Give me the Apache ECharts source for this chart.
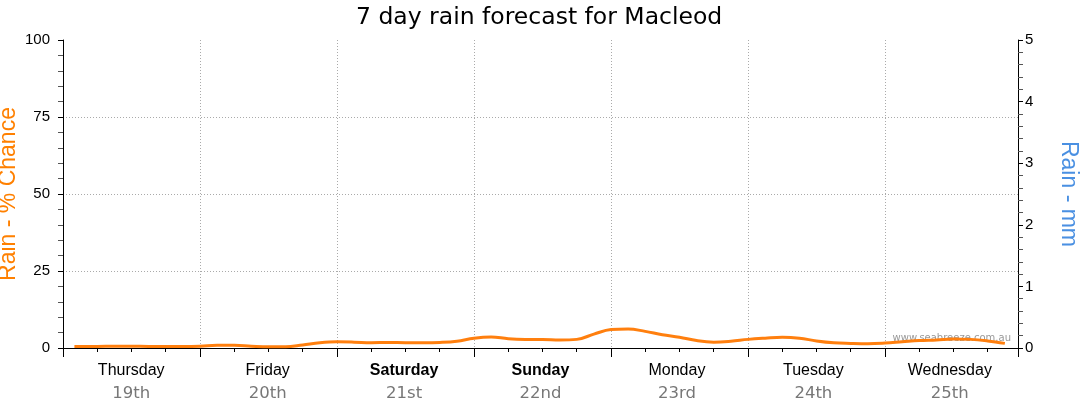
<!DOCTYPE html>
<html><head><meta charset="utf-8">
<script src="https://cdn.jsdelivr.net/npm/echarts@6/dist/echarts.min.js"></script>
<style>html,body{margin:0;padding:0;background:#fff}#c{width:1080px;height:414px}</style>
</head><body><div id="c"></div>
<script>
const titleText = '7 day rain forecast for Macleod';
const dayNames = ['Thursday','Friday','Saturday','Sunday','Monday','Tuesday','Wednesday'];
const dayDates = ['19th','20th','21st','22nd','23rd','24th','25th'];
const boldDays = ['Saturday','Sunday'];
// forecast hour from start of Thursday
const hours = [2,6,9,12,15,18,21,24,27,30,33,36,39,42,45,48,51,54,57,60,63,66,69,72,75,78,81,84,87,90,93,96,99,102,105,108,111,114,117,120,123,126,129,132,135,138,141,144,147,150,153,156,159,162,165];
const chance = [0.5,0.5,0.6,0.6,0.5,0.5,0.5,0.6,0.9,0.9,0.6,0.4,0.4,1.0,1.7,2.0,1.9,1.7,1.8,1.7,1.7,1.8,2.2,3.2,3.6,3.0,2.8,2.8,2.6,2.8,4.5,6.0,6.2,5.4,4.3,3.5,2.4,1.9,2.2,2.8,3.2,3.5,3.2,2.3,1.7,1.5,1.4,1.6,2.0,2.4,2.6,2.9,2.8,2.3,1.5];
const chanceTicks = {min:0, max:100, interval:25};
const mmTicks = {min:0, max:5, interval:1};
const hourRange = {min:0, max:167.3, interval:24};

const chart = echarts.init(document.getElementById('c'), null, {renderer:'canvas'});
const labelFont = '"Liberation Sans", Arial, sans-serif';
chart.setOption({
  animation:false,
  title:{text:titleText, left:351, top:1,
    textStyle:{fontFamily:'"DejaVu Sans", Verdana, sans-serif', fontSize:23.5, fontWeight:'normal', color:'#000'}},
  grid:{left:63, right:62, top:40, bottom:66, containLabel:false, outerBoundsMode:'none'},
  xAxis:[{
    type:'value', min:hourRange.min, max:hourRange.max, interval:hourRange.interval,
    axisLine:{show:true, lineStyle:{color:'#000', width:1}},
    axisTick:{show:true, length:9, lineStyle:{color:'#000'}},
    minorTick:{show:true, splitNumber:4, length:4, lineStyle:{color:'#000'}},
    axisLabel:{show:false},
    splitLine:{show:true, showMinLine:false, showMaxLine:false, lineStyle:{color:'#aaa', type:[1,2], width:1}}
  },{
    type:'category', data:dayNames, position:'bottom', boundaryGap:true,
    axisLine:{show:false}, axisTick:{show:false},
    axisLabel:{margin:12, interval:0,
      formatter:(v,i)=>'{' + (boldDays.includes(v)?'b':'d') + '|' + v + '}\n{n|' + dayDates[i] + '}',
      rich:{
        d:{fontFamily:labelFont, fontSize:16, color:'#000', lineHeight:22},
        b:{fontFamily:labelFont, fontSize:16, color:'#000', fontWeight:'bold', lineHeight:22},
        n:{fontFamily:'"DejaVu Sans", Verdana, sans-serif', fontSize:16.5, color:'#777', lineHeight:24}
      }}
  }],
  yAxis:[{
    type:'value', min:chanceTicks.min, max:chanceTicks.max, interval:chanceTicks.interval, position:'left',
    name:'Rain - % Chance', nameLocation:'middle', nameGap:43, nameRotate:90, nameMoveOverlap:false,
    nameTextStyle:{color:'#ff8000', fontSize:23, fontFamily:labelFont},
    axisLine:{show:true, lineStyle:{color:'#000'}},
    axisTick:{show:true, length:5, lineStyle:{color:'#000'}},
    minorTick:{show:true, splitNumber:5, length:5, lineStyle:{color:'#555'}},
    axisLabel:{margin:13, color:'#000', fontSize:15, fontFamily:labelFont},
    splitLine:{show:true, showMinLine:false, showMaxLine:false, lineStyle:{color:'#aaa', type:[1,2], width:1}}
  },{
    type:'value', min:mmTicks.min, max:mmTicks.max, interval:mmTicks.interval, position:'right',
    name:'Rain - mm', nameLocation:'middle', nameGap:39, nameRotate:-90, nameMoveOverlap:false,
    nameTextStyle:{color:'#4a90e2', fontSize:23, fontFamily:labelFont},
    axisLine:{show:true, lineStyle:{color:'#000'}},
    axisTick:{show:true, length:5, lineStyle:{color:'#000'}},
    minorTick:{show:true, splitNumber:5, length:5, lineStyle:{color:'#555'}},
    axisLabel:{margin:7, color:'#000', fontSize:15, fontFamily:labelFont},
    splitLine:{show:false}
  }],
  graphic:[{type:'text', right:69, top:333, silent:true,
    style:{text:'www.seabreeze.com.au', fill:'#999', font:'10px "DejaVu Sans", Verdana, sans-serif'}}],
  series:[{
    type:'line', xAxisIndex:0, yAxisIndex:0, smooth:0.4, showSymbol:false,
    lineStyle:{color:'#ff7f0e', width:3}, itemStyle:{color:'#ff7f0e'},
    data:hours.map((h,i)=>[h, chance[i]])
  }]
});
</script></body></html>
